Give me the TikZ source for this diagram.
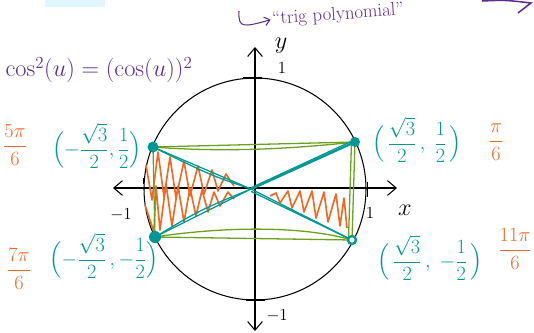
\documentclass[tikz,border=0pt]{standalone}
\usepackage{amsmath,xcolor}
\usetikzlibrary{arrows.meta}
\definecolor{trigteal}{RGB}{0,152,146}
\definecolor{triggreen}{RGB}{106,162,28}
\definecolor{trigorange}{RGB}{242,104,34}
\definecolor{trigpurple}{RGB}{90,45,145}
\tikzset{
  greenline/.style={triggreen,line width=1.1pt},
  tealline/.style={trigteal,line width=1.1pt},
  scribble/.style={trigorange,line width=1.4pt,line join=round},
  tick/.style={line width=2.2pt},
  pointlab/.style={trigteal,font=\fontsize{16}{18}\selectfont,inner sep=1pt},
  anglelab/.style={trigorange,font=\fontsize{17}{19}\selectfont},
  axislab/.style={font=\fontsize{22}{24}\selectfont,inner sep=1pt}
}

\begin{document}
\begin{tikzpicture}[x=0.03cm,y=-0.03cm,>={Straight Barb[length=2.6mm,width=4.4mm]},every node/.style={font=\fontsize{15}{17}\selectfont},line width=.9pt]
\useasboundingbox (0,0) rectangle (534,332);
\fill[cyan!12] (45,0) rectangle (105,7);
% axes and unit circle
\draw[<->] (113,188)--(397,188);
\draw[<->] (255,331)--(255,47);
\draw (255,189) circle[radius=111];
\draw[tick] (243,78)--(262,78);
\draw[tick] (246,300)--(265,300);
\draw[line width=.6pt] (143,178)--(143,184);
\draw[line width=.6pt] (367,182)--(367,197);
\node[axislab] (ylab) at (281,46) {$y$};
\node[inner sep=1pt] (ytop) at (282,68) {$1$};
\node[axislab] (xlab) at (405,210) {$x$};
\node[inner sep=1pt] (xright) at (370,213) {$1$};
\node (xleft) at (121,215) {$-1$};
\node (ybot) at (277,316) {$-1$};
% points
\coordinate (X) at (251,189);
\coordinate (A) at (355,142);
\coordinate (B) at (153,147);
\coordinate (C) at (155,237);
\coordinate (D) at (352,240);
% orange hatching
\draw[scribble] (146,165)--(152,200)--(158,152)--(164,197)--(170,157)--(176,198)--(184,161)--(190,196)--(198,166)--(204,194)--(212,170)--(218,191)--(226,174)--(234,186);
\draw[scribble] (145,205)--(154,232)--(156,186)--(160,230)--(166,184)--(172,226)--(178,186)--(184,222)--(190,188)--(196,216)--(202,190)--(208,212)--(214,192)--(220,206)--(228,192)--(234,199);
\draw[scribble] (270,196)--(276,193)--(280,203)--(288,191)--(292,208)--(300,191)--(304,212)--(312,191)--(316,218)--(324,192)--(328,222)--(336,194)--(340,226)--(344,198)--(347,228);
% green rectangle
\draw[greenline] (B)--(A);
\draw[greenline] (B) .. controls (230,153) and (300,148) .. (A);
\draw[greenline] (C)--(D);
\draw[greenline] (C) .. controls (220,227) and (300,225) .. (D);
\draw[greenline] (B)--(C);
\draw[greenline] (A)--(D);
\draw[greenline] ([xshift=-3pt]A)--([xshift=-3pt]D);
% teal rays
\draw[tealline,line width=2pt] (X)--(A);
\draw[tealline] ([yshift=1pt]X)--([yshift=2pt]A);
\draw[tealline] (X)--(B);
\draw[tealline] (X) .. controls (210,175) .. (B);
\draw[tealline] (X)--(C);
\draw[tealline] (X) .. controls (200,210) .. (C);
\draw[tealline] (X)--(D);
\draw[tealline] ([yshift=-2pt]X) .. controls (300,215) .. (D);
\fill[trigteal] (A) circle[radius=5];
\fill[trigteal] (B) circle[radius=5.5];
\fill[trigteal] (C) circle[radius=6];
\draw[trigteal,line width=2pt,fill=white] (D) circle[radius=4];
% point labels
\node[pointlab] (Alab) at (417,140) {$\Bigl(\,\dfrac{\sqrt3}{2}\,,\;\dfrac12\,\Bigr)$};
\node[pointlab] (Blab) at (97,146) {$\Bigl(-\dfrac{\sqrt3}{2},\dfrac12\Bigr)$};
\node[pointlab] (Clab) at (104,256) {$\Bigl(-\dfrac{\sqrt3}{2}\,,-\dfrac12\Bigr)$};
\node[pointlab] (Dlab) at (430,258) {$\Bigl(\,\dfrac{\sqrt3}{2}\,,\;-\dfrac12\,\Bigr)$};
\node[anglelab] (Aang) at (496,142) {$\dfrac{\pi}{6}$};
\node[anglelab] (Bang) at (15,145) {$\dfrac{5\pi}{6}$};
\node[anglelab] (Cang) at (19,269) {$\dfrac{7\pi}{6}$};
\node[anglelab] (Dang) at (515,249) {$\dfrac{11\pi}{6}$};
% purple notes
\node[trigpurple,font=\fontsize{21}{24}\selectfont] (identity) at (99,70) {$\cos^2(u)=(\cos(u))^2$};
\node[trigpurple,rotate=4,font=\fontsize{16}{18}\selectfont,inner sep=1pt] (trig) at (338,15) {``trig polynomial''};
\coordinate (hook) at (239,11);
\draw[trigpurple,-{Straight Barb[length=1.6mm,width=2.6mm]}] (hook) .. controls (238,29) and (244,27) .. (trig.west);
\coordinate (r1) at (482,1);
\coordinate (r2) at (531,3);
\draw[trigpurple,line width=1.3pt] (r1) .. controls (505,0) .. (r2)--(518,13);
\end{tikzpicture}
\end{document}
